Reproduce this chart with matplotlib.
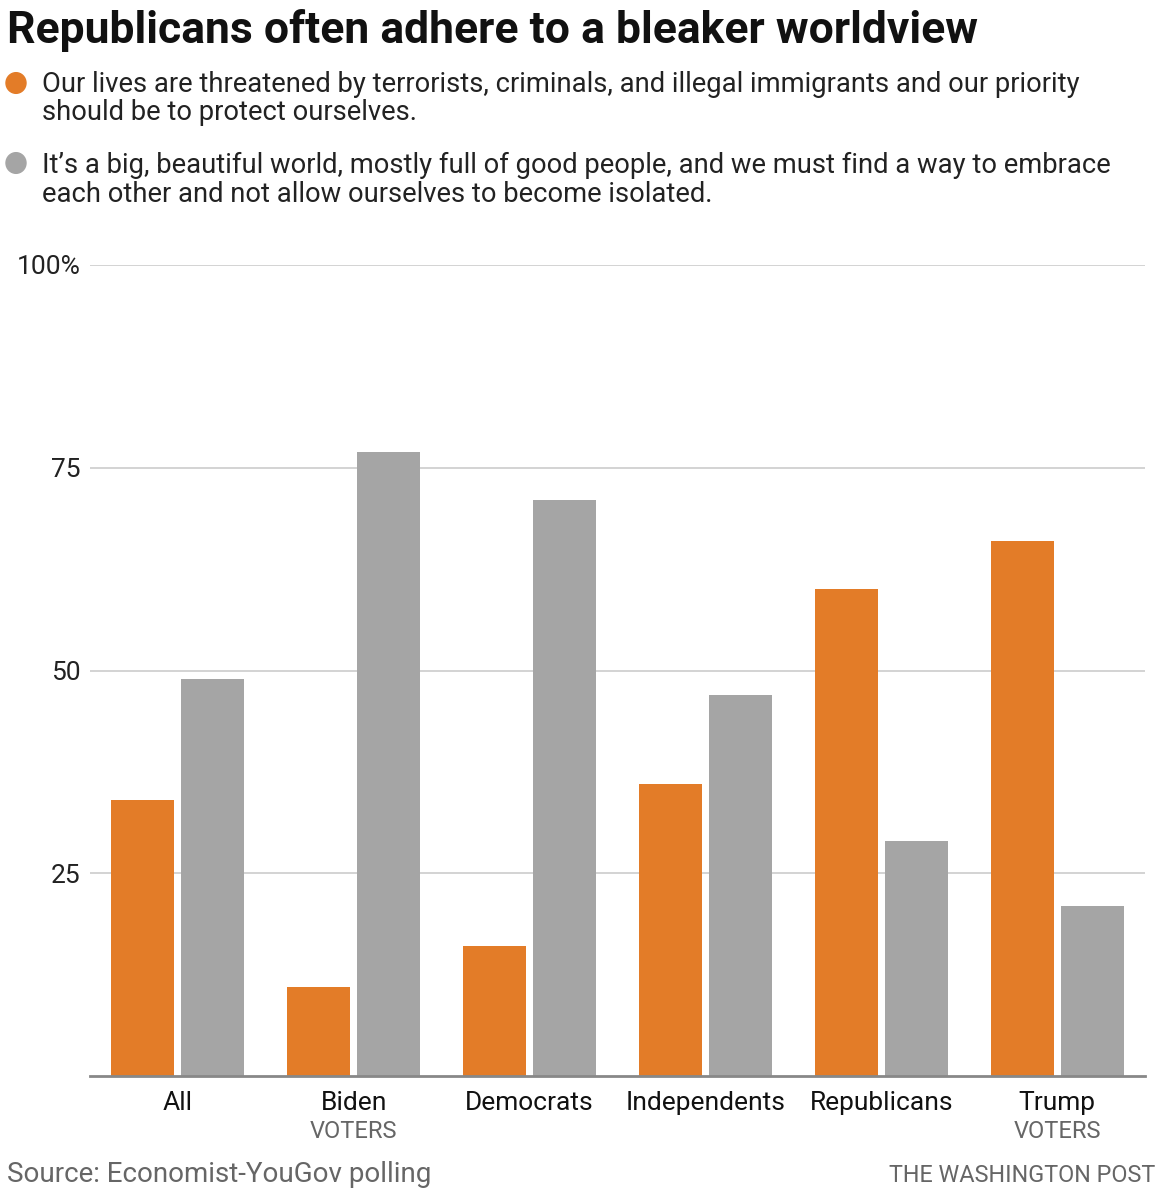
import matplotlib
matplotlib.use("Agg")
import matplotlib.pyplot as plt
from matplotlib.patches import Circle
import numpy as np

plt.rcParams['font.family'] = ['Roboto', 'DejaVu Sans']

categories = ["All", "Biden", "Democrats", "Independents", "Republicans", "Trump"]
sublabels = ["", "VOTERS", "", "", "", "VOTERS"]
threatened = [34, 11, 16, 36, 60, 66]
embrace = [49, 77, 71, 47, 29, 21]
yticks = [25, 50, 75, 100]
ytick_labels = ["25", "50", "75", "100%"]

title = "Republicans often adhere to a bleaker worldview"
legend1 = ["Our lives are threatened by terrorists, criminals, and illegal immigrants and our priority",
           "should be to protect ourselves."]
legend2 = ["It\u2019s a big, beautiful world, mostly full of good people, and we must find a way to embrace",
           "each other and not allow ourselves to become isolated."]
source = "Source: Economist-YouGov polling"
credit = "THE WASHINGTON POST"

ORANGE = "#e37c28"
GRAY = "#a5a5a5"

W, H = 1162, 1200
fig = plt.figure(figsize=(W / 100, H / 100), dpi=100)
ax = fig.add_axes([90 / W, 1 - 1076 / H, 1055 / W, (1076 - 265) / H])

x = np.arange(len(categories))
bw = 0.358
off = 0.199
ax.bar(x - off, threatened, bw, color=ORANGE, zorder=3)
ax.bar(x + off, embrace, bw, color=GRAY, zorder=3)

ax.set_xlim(-0.5, len(categories) - 0.5)
ax.set_ylim(0, 100)
for s in ["top", "right", "left"]:
    ax.spines[s].set_visible(False)
ax.spines["bottom"].set_color("#888888")
ax.spines["bottom"].set_linewidth(2)
ax.spines["bottom"].set_zorder(4)
ax.set_yticks(yticks)
ax.set_yticklabels(ytick_labels)
ax.yaxis.grid(True, color="#cccccc", linewidth=1.2)
ax.set_axisbelow(True)
ax.tick_params(axis="y", length=0, pad=7, labelsize=19, labelcolor="#222222")
ax.tick_params(axis="x", length=0, labelbottom=False)

for i, (c, s) in enumerate(zip(categories, sublabels)):
    ax.annotate(c, xy=(x[i], 0), xycoords=("data", "axes fraction"),
                xytext=(0, -27), textcoords="offset pixels",
                ha="center", va="center", fontsize=19, color="#111111")
    if s:
        ax.annotate(s, xy=(x[i], 0), xycoords=("data", "axes fraction"),
                    xytext=(0, -55), textcoords="offset pixels",
                    ha="center", va="center", fontsize=17, color="#666666")

fig.text(7 / W, 1 - 31 / H, title, fontsize=32, fontweight="bold",
         ha="left", va="center", color="#111111")
for lines, y0 in [(legend1, 84), (legend2, 165)]:
    for k, line in enumerate(lines):
        fig.text(42 / W, 1 - (y0 + 29 * k) / H, line, fontsize=19.7,
                 ha="left", va="center", color="#222222")

for yy, col in [(83, ORANGE), (163, GRAY)]:
    fig.patches.append(Circle((16 / W, 1 - yy / H), 10 / W, color=col,
                              transform=fig.transFigure, figure=fig))

fig.text(7 / W, 1 - 1175 / H, source, fontsize=20, ha="left", va="center",
         color="#666666")
fig.text(1155 / W, 1 - 1175 / H, credit, fontsize=16.8, ha="right", va="center",
         color="#666666")

fig.savefig("out.png", dpi=100)
